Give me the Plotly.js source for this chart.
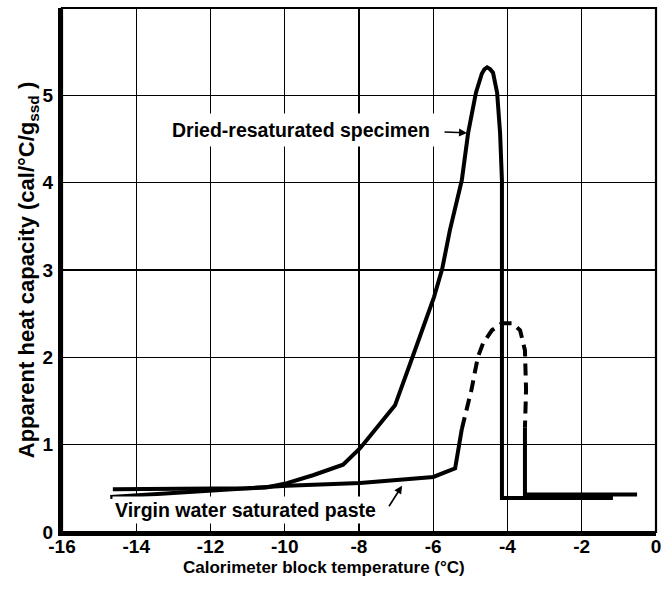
<!DOCTYPE html>
<html>
<head>
<meta charset="utf-8">
<script src="https://cdn.plot.ly/plotly-3.0.1.min.js"></script>
<style>html,body{margin:0;padding:0;background:#fff;}</style>
</head>
<body>
<div id="chart" style="width:664px;height:590px;"></div>
<script>
// Dried-resaturated specimen
const driedX = [-14.63, -13.0, -12.0, -11.0, -10.5, -9.94, -9.24, -8.43, -7.97, -7.03, -6.57, -6.22, -5.98, -5.76, -5.55, -5.23, -5.06, -4.85, -4.69, -4.62, -4.55, -4.47, -4.39, -4.28, -4.20, -4.15, -4.15, -1.16];
const driedY = [0.49, 0.49, 0.49, 0.50, 0.51, 0.56, 0.65, 0.77, 0.96, 1.45, 1.99, 2.39, 2.69, 3.01, 3.46, 4.03, 4.57, 5.03, 5.25, 5.30, 5.32, 5.30, 5.26, 5.03, 4.57, 4.03, 0.39, 0.39];
// Virgin water saturated paste: solid low part
const virginX1 = [-14.7, -13.98, -11.96, -10.48, -9.94, -7.97, -7.08, -6.36, -6.0, -5.41, -5.23];
const virginY1 = [0.40, 0.42, 0.48, 0.51, 0.53, 0.56, 0.59, 0.61, 0.63, 0.73, 1.18];
// Virgin: dashed peak part
const virginXd = [-5.23, -4.97, -4.80, -4.66, -4.42, -4.15, -3.88, -3.66, -3.53, -3.50, -3.53];
const virginYd = [1.18, 1.63, 2.00, 2.16, 2.31, 2.39, 2.39, 2.31, 2.08, 1.63, 1.20];
// Virgin: solid drop and tail
const virginX2 = [-3.53, -3.53, -0.51];
const virginY2 = [1.20, 0.43, 0.43];

const xTicks = [-16, -14, -12, -10, -8, -6, -4, -2, 0];
const yTicks = [0, 1, 2, 3, 4, 5, 6];

const FONT = 'Liberation Sans, Arial, Helvetica, sans-serif';
const lineStyle = {color: '#000', width: 4};

const traces = [
  {x: driedX, y: driedY, mode: 'lines', line: lineStyle, showlegend: false, hoverinfo: 'skip'},
  {x: virginX1, y: virginY1, mode: 'lines', line: lineStyle, showlegend: false, hoverinfo: 'skip'},
  {x: virginXd, y: virginYd, mode: 'lines', line: {color: '#000', width: 4, dash: '12px,7px'}, showlegend: false, hoverinfo: 'skip'},
  {x: virginX2, y: virginY2, mode: 'lines', line: lineStyle, showlegend: false, hoverinfo: 'skip'}
];

const axisCommon = {
  showgrid: true, gridcolor: '#000', gridwidth: 1.4,
  zeroline: false, showline: true, linecolor: '#000', linewidth: 4,
  ticks: '', tickfont: {family: FONT, size: 19, color: '#000', weight: 'bold'}
};

const layout = {
  width: 664, height: 590,
  margin: {l: 62, r: 8, t: 8, b: 58},
  paper_bgcolor: '#fff', plot_bgcolor: '#fff',
  font: {family: FONT, color: '#000'},
  xaxis: Object.assign({}, axisCommon, {range: [-16, 0], tickvals: xTicks, ticktext: xTicks.map(String), ticklabelstandoff: -6}),
  yaxis: Object.assign({}, axisCommon, {range: [0, 6], tickvals: yTicks, ticktext: yTicks.map(String), ticklabelstandoff: 1,
    title: {text: 'Apparent heat capacity (cal/°C/g<sub>ssd</sub> )', font: {family: FONT, size: 22, weight: 'bold', color: '#000'}, standoff: 3}}),
  shapes: [
    {type: 'rect', xref: 'paper', yref: 'paper', x0: 0, x1: 1, y0: 0, y1: 1, line: {color: '#000', width: 2.2}, fillcolor: 'rgba(0,0,0,0)'}
  ],
  annotations: [
    {xref: 'paper', yref: 'paper', x: 0.441, y: -0.067, yanchor: 'middle', xanchor: 'center', showarrow: false,
     text: 'Calorimeter block temperature (°C)', font: {family: FONT, size: 17, weight: 'bold', color: '#000'}},
    {x: -9.56, y: 4.60, xref: 'x', yref: 'y', showarrow: false, text: 'Dried-resaturated specimen',
     font: {family: FONT, size: 19.5, weight: 'bold', color: '#000'}, bgcolor: '#fff', borderpad: 5},
    {x: -5.09, y: 4.57, xref: 'x', yref: 'y', ax: -24, ay: -1, showarrow: true, text: '',
     arrowhead: 2, arrowsize: 1, arrowwidth: 1.6, arrowcolor: '#000'},
    {x: -11.07, y: 0.25, xref: 'x', yref: 'y', showarrow: false, text: 'Virgin water saturated paste',
     font: {family: FONT, size: 19.5, weight: 'bold', color: '#000'}, bgcolor: '#fff', borderpad: 2},
    {x: -6.84, y: 0.53, xref: 'x', yref: 'y', ax: -14, ay: 22, showarrow: true, text: '',
     arrowhead: 2, arrowsize: 1, arrowwidth: 1.6, arrowcolor: '#000'}
  ]
};

Plotly.newPlot('chart', traces, layout, {displayModeBar: false, staticPlot: true});
</script>
</body>
</html>
